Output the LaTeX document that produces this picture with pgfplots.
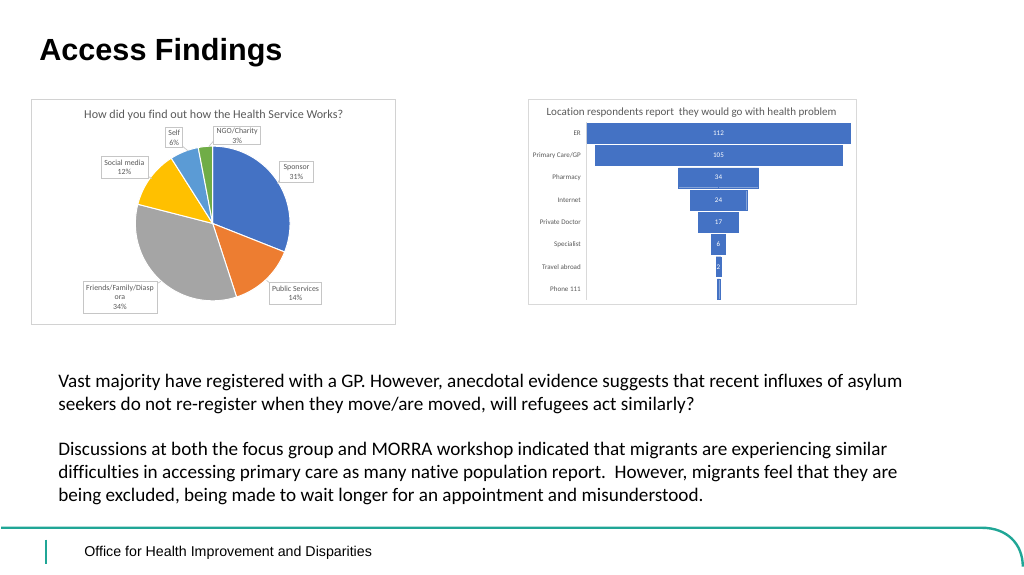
\documentclass[border=0pt]{standalone}
\usepackage{pgfplots}
\pgfplotsset{compat=1.18}
\usepackage{pgfplotstable}
\usepackage{fontspec}
\setmainfont{Carlito}[Ligatures=NoCommon]
\newfontfamily\arial{Liberation Sans}
\definecolor{cblue}{HTML}{4472C4}
\definecolor{corange}{HTML}{ED7D31}
\definecolor{cgray}{HTML}{A5A5A5}
\definecolor{cgold}{HTML}{FFC000}
\definecolor{clblue}{HTML}{5B9BD5}
\definecolor{cgreen}{HTML}{70AD47}
\definecolor{txtgray}{HTML}{595959}
\definecolor{teal}{RGB}{32,166,150}

\pgfplotstableread{
i v h nh
0 112 56 -56
1 105 52.5 -52.5
2 34 17 -17
3 24 12 -12
4 17 8.5 -8.5
5 6 3 -3
6 2 1 -1
7 1 0.5 -0.5
}\funnel
\pgfplotstableread{
i z v
0 0 112
1 0 105
2 0 34
3 0 24
4 0 17
5 0 6
6 0 2
}\funnellab

\newcommand{\slice}[3]{\addplot[fill=#1, draw=white, line width=0.75pt, domain=90-3.6*(#2+#3):90-3.6*#2, samples=60] ({cos(x)},{sin(x)}) -- (axis cs:0,0) -- cycle;}

\begin{document}
\begin{tikzpicture}[x=0.75pt,y=0.75pt]
\fill[white] (0,0) rectangle (1024,576);
% slide title
\node[anchor=base west, inner sep=0, font=\arial\bfseries\fontsize{23}{27}\selectfont] at (38,{576-61}) {Access Findings};

% ---------- pie panel ----------
\draw[gray!35, line width=0.6pt] (30,{576-100}) rectangle (395,{576-325});
\node[anchor=base, inner sep=0, text=txtgray, font=\fontsize{9.1}{10}\selectfont] at (213,{576-119}) {How did you find out how the Health Service Works?};
\begin{axis}[at={(159pt,264pt)}, anchor=center, scale only axis, width=116.25pt, height=116.25pt,
  xmin=-1, xmax=1, ymin=-1, ymax=1, axis lines=none, clip=false]
\slice{cblue}{0}{31}
\slice{corange}{31}{14}
\slice{cgray}{45}{34}
\slice{cgold}{79}{12}
\slice{clblue}{91}{6}
\slice{cgreen}{97}{3}
\end{axis}
\tikzset{pl/.style={draw=gray!45, fill=white, font=\fontsize{5.9}{7}\selectfont, text=txtgray, align=center, inner sep=0.5pt, line width=0.5pt}}
% pointers
\draw[gray!45, line width=0.5pt] (181,{576-146}) -- (187,{576-151});
\draw[gray!45, line width=0.5pt] (214,{576-140}) -- (208,{576-147});
\draw[gray!45, line width=0.5pt] (146,{576-176}) -- (151,{576-179});
\draw[gray!45, line width=0.5pt] (280,{576-178}) -- (277,{576-184});
\draw[gray!45, line width=0.5pt] (271,{576-285}) -- (266,{576-281});
\draw[gray!45, line width=0.5pt] (155,{576-285}) -- (160,{576-282});
\node[pl, minimum width=12.75pt, minimum height=15pt] at (173.5,{576-138}) {Self\\6\%};
\node[pl, minimum width=35.25pt, minimum height=13.5pt] at (236.5,{576-136}) {NGO/Charity\\3\%};
\node[pl, minimum width=35.25pt, minimum height=16.5pt] at (123.5,{576-168}) {Social media\\12\%};
\node[pl, minimum width=25.5pt, minimum height=15.75pt] at (296,{576-172.5}) {Sponsor\\31\%};
\node[pl, minimum width=39pt, minimum height=16.5pt] at (295,{576-294}) {Public Services\\14\%};
\node[pl, minimum width=55.5pt, minimum height=24pt] at (119,{576-298}) {Friends/Family/Diasp\\ora\\34\%};

% ---------- funnel panel ----------
\draw[gray!30, line width=0.6pt] (528,{576-100}) rectangle (857,{576-305});
\node[anchor=base, inner sep=0, text=txtgray, font=\fontsize{8.3}{9}\selectfont] at (692,{576-116}) {Location respondents report\ \ they would go with health problem};
\begin{axis}[at={(440.25pt,340.2pt)}, anchor=north west, scale only axis, width=198pt, height=133.8pt,
  xmin=-56, xmax=56, ymin=-0.5, ymax=7.5, y dir=reverse,
  axis x line=none, axis y line*=left,
  y axis line style={draw=gray!30, line width=0.6pt, -},
  ytick={0,...,7},
  yticklabels={ER, Primary Care/GP, Pharmacy, Internet, Private Doctor, Specialist, Travel abroad, Phone 111},
  major tick length=0pt,
  yticklabel style={font=\fontsize{5.3}{6}\selectfont, text=txtgray, xshift=-1pt},
  clip=false]
\addplot[xbar, bar width=15pt, bar shift=0pt, fill=cblue, draw=cblue, line width=0.3pt] table[x=h, y=i] {\funnel};
\addplot[xbar, bar width=15pt, bar shift=0pt, fill=cblue, draw=cblue, line width=0.3pt] table[x=nh, y=i] {\funnel};
\addplot[draw=none, mark=none, nodes near coords, point meta=explicit symbolic,
  nodes near coords style={anchor=center, text=white, font=\fontsize{5.3}{6}\selectfont, inner sep=0pt}]
  table[x=z, y=i, meta=v] {\funnellab};
\end{axis}

% ---------- body text ----------
\tikzset{bt/.style={anchor=base west, inner sep=0, font=\fontsize{14.4}{17}\selectfont}}
\node[bt] at (57,{576-388}) {Vast majority have registered with a GP. However, anecdotal evidence suggests that recent influxes of asylum};
\node[bt] at (57,{576-411}) {seekers do not re-register when they move/are moved, will refugees act similarly?};
\node[bt] at (57,{576-457}) {Discussions at both the focus group and MORRA workshop indicated that migrants are experiencing similar};
\node[bt] at (57,{576-480}) {difficulties in accessing primary care as many native population report.\ \ However, migrants feel that they are};
\node[bt] at (57,{576-503}) {being excluded, being made to wait longer for an appointment and misunderstood.};

% ---------- footer ----------
\draw[teal, line width=1.8pt] (0,{576-529}) -- (983,{576-529}) .. controls (1008,{576-529}) and (1024,{576-545}) .. (1024,{576-568});
\draw[teal, line width=1.5pt] (45,{576-541}) -- (45,{576-565});
\node[anchor=base west, inner sep=0, font=\arial\fontsize{10.7}{12}\selectfont] at (83,{576-558}) {Office for Health Improvement and Disparities};
\end{tikzpicture}
\end{document}
